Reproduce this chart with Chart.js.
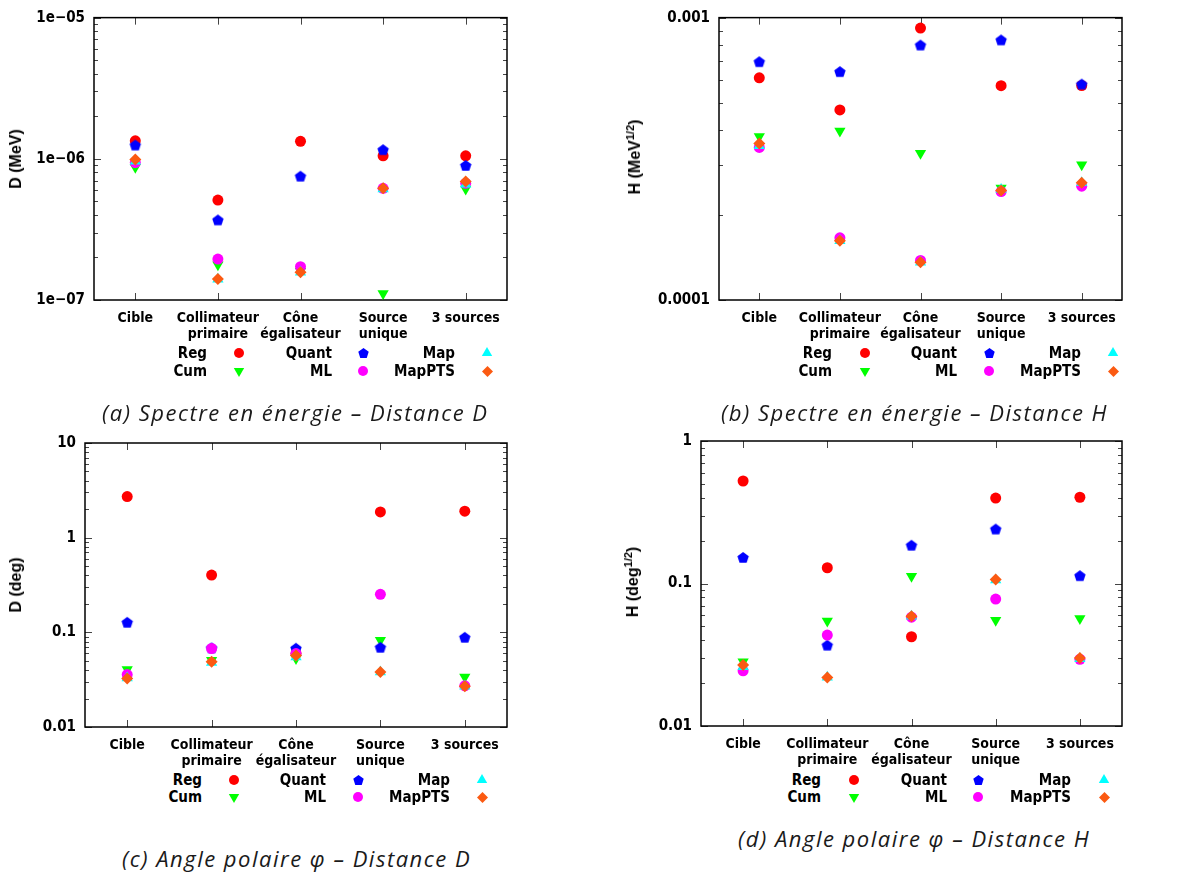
<!DOCTYPE html>
<html>
<head>
<meta charset="utf-8">
<script src="https://cdn.jsdelivr.net/npm/chart.js@4.4.1/dist/chart.umd.min.js"></script>
<style>
body { margin: 0; background: #fff; width: 1186px; height: 872px; position: relative; overflow: hidden; }
canvas { position: absolute; }
.ytitle { position: absolute; font: bold 16px "Liberation Sans", Arial, sans-serif; white-space: nowrap; transform: translate(-50%, -50%) rotate(-90deg); }
.ytitle sup { font-size: 11px; line-height: 0; }
.lg { position: absolute; font: bold 15px "DejaVu Sans Condensed", "Liberation Sans Narrow", sans-serif; white-space: nowrap; transform: translate(-100%, -50%); }
.cap { position: absolute; font: italic 400 22px "Open Sans", "Noto Sans", sans-serif; letter-spacing: 1.5px; white-space: nowrap; transform: translateY(-50%); color: #1a1a1a; }
</style>
</head>
<body>
<script>
// categories and series
const categories = ['Cible', ['Collimateur', 'primaire'], ['Cône', 'égalisateur'], ['Source', 'unique'], '3 sources'];
const seriesNames = ['Reg', 'Cum', 'Quant', 'ML', 'Map', 'MapPTS'];

// (a) Spectre en énergie - Distance D
const regA    = [1.34e-6, 5.1e-7, 1.33e-6, 1.05e-6, 1.05e-6];
const cumA    = [8.7e-7, 1.78e-7, 1.6e-7, 1.11e-7, 6.1e-7];
const quantA  = [1.24e-6, 3.66e-7, 7.47e-7, 1.15e-6, 8.9e-7];
const mlA     = [9.4e-7, 1.95e-7, 1.72e-7, 6.18e-7, 6.7e-7];
const mapA    = [9.6e-7, 1.4e-7, 1.57e-7, 6.1e-7, 6.6e-7];
const mapptsA = [9.9e-7, 1.41e-7, 1.57e-7, 6.18e-7, 6.9e-7];
const yDecadesA = [-7, -6, -5];
const yLabelsA  = ['1e−07', '1e−06', '1e−05'];

// (b) Spectre en énergie - Distance H
const regB    = [6.12e-4, 4.71e-4, 9.18e-4, 5.74e-4, 5.75e-4];
const cumB    = [3.79e-4, 3.97e-4, 3.31e-4, 2.49e-4, 3.01e-4];
const quantB  = [6.95e-4, 6.41e-4, 7.96e-4, 8.3e-4, 5.79e-4];
const mlB     = [3.47e-4, 1.66e-4, 1.38e-4, 2.42e-4, 2.53e-4];
const mapB    = [3.52e-4, 1.62e-4, 1.36e-4, 2.46e-4, 2.6e-4];
const mapptsB = [3.58e-4, 1.62e-4, 1.36e-4, 2.44e-4, 2.6e-4];
const yDecadesB = [-4, -3];
const yLabelsB  = ['0.0001', '0.001'];

// (c) Angle polaire - Distance D
const regC    = [2.72, 0.403, 0.0597, 1.87, 1.905];
const cumC    = [0.0405, 0.0508, 0.053, 0.0826, 0.0338];
const quantC  = [0.126, 0.0675, 0.067, 0.0686, 0.0875];
const mlC     = [0.0358, 0.0675, 0.0597, 0.252, 0.0272];
const mapC    = [0.033, 0.048, 0.055, 0.038, 0.027];
const mapptsC = [0.0325, 0.0488, 0.0569, 0.0382, 0.027];
const yDecadesC = [-2, -1, 0, 1];
const yLabelsC  = ['0.01', '0.1', '1', '10'];

// (d) Angle polaire - Distance H
const regD    = [0.524, 0.129, 0.0423, 0.398, 0.403];
const cumD    = [0.0282, 0.0545, 0.1125, 0.0553, 0.0569];
const quantD  = [0.151, 0.0366, 0.184, 0.239, 0.1125];
const mlD     = [0.0244, 0.0435, 0.058, 0.0777, 0.0294];
const mapD    = [0.026, 0.022, 0.059, 0.106, 0.0297];
const mapptsD = [0.0268, 0.0219, 0.059, 0.1067, 0.03];
const yDecadesD = [-2, -1, 0];
const yLabelsD  = ['0.01', '0.1', '1'];

// marker styles, same order as seriesNames
const markers = [
    { color: '#ff0000', shape: 'circle', r: 5.5 },
    { color: '#00ff00', shape: 'down', r: 6.5 },
    { color: '#0000ff', shape: 'pentagon', r: 6 },
    { color: '#ff00ff', shape: 'circle', r: 5.5 },
    { color: '#00ffff', shape: 'up', r: 6.5 },
    { color: '#fb5a12', shape: 'diamond', r: 6 }
];

const tickFont = { family: '"DejaVu Sans Condensed", "Liberation Sans Narrow", sans-serif', size: 14, weight: 'bold', lineHeight: 1.15 };

const panels = [
    { series: [regA, cumA, quantA, mlA, mapA, mapptsA], decades: yDecadesA, labels: yLabelsA,
      box: { left: 0, top: 0, w: 560, h: 350 }, area: { left: 94, top: 17, right: 507, bottom: 300 },
      title: 'D (MeV)', titlePos: [16, 159],
      lgText: [207, 332, 455], lgMark: [239, 363, 487], lgRows: [353, 371],
      caption: '(a) Spectre en énergie – Distance D', capPos: [102, 412] },
    { series: [regB, cumB, quantB, mlB, mapB, mapptsB], decades: yDecadesB, labels: yLabelsB,
      box: { left: 600, top: 0, w: 586, h: 350 }, area: { left: 719, top: 16, right: 1122, bottom: 300 },
      title: 'H (MeV<sup>1/2</sup>)', titlePos: [635, 157],
      lgText: [832, 957, 1081], lgMark: [865, 989, 1113], lgRows: [353, 371],
      caption: '(b) Spectre en énergie – Distance H', capPos: [721, 412] },
    { series: [regC, cumC, quantC, mlC, mapC, mapptsC], decades: yDecadesC, labels: yLabelsC,
      box: { left: 0, top: 420, w: 560, h: 350 }, area: { left: 85, top: 443, right: 507, bottom: 727 },
      title: 'D (deg)', titlePos: [16, 585],
      lgText: [202, 326, 450], lgMark: [234, 358, 482], lgRows: [780, 797],
      caption: '(c) Angle polaire φ – Distance D', capPos: [122, 858] },
    { series: [regD, cumD, quantD, mlD, mapD, mapptsD], decades: yDecadesD, labels: yLabelsD,
      box: { left: 600, top: 420, w: 586, h: 350 }, area: { left: 701, top: 441, right: 1122, bottom: 726 },
      title: 'H (deg<sup>1/2</sup>)', titlePos: [633, 582],
      lgText: [821, 947, 1071], lgMark: [854, 978, 1104], lgRows: [780, 797],
      caption: '(d) Angle polaire φ – Distance H', capPos: [738, 838] }
];

function drawMarker(g, m, x, y) {
    g.fillStyle = m.color;
    g.beginPath();
    if (m.shape === 'circle') {
        g.arc(x, y, m.r, 0, Math.PI * 2);
    } else if (m.shape === 'pentagon') {
        for (let i = 0; i < 5; i++) {
            const a = -Math.PI / 2 + i * 2 * Math.PI / 5;
            g.lineTo(x + m.r * Math.cos(a), y + m.r * Math.sin(a));
        }
    } else if (m.shape === 'diamond') {
        g.moveTo(x, y - m.r); g.lineTo(x + m.r, y); g.lineTo(x, y + m.r); g.lineTo(x - m.r, y);
    } else {
        const s = m.shape === 'up' ? -1 : 1;
        for (let i = 0; i < 3; i++) {
            const a = Math.PI / 2 * s + i * 2 * Math.PI / 3;
            g.lineTo(x + m.r * Math.cos(a), y + m.r * Math.sin(a));
        }
    }
    g.closePath();
    g.fill();
}

function markerCanvas(m) {
    const c = document.createElement('canvas');
    const s = Math.ceil(m.r * 2) + 2;
    c.width = s; c.height = s;
    drawMarker(c.getContext('2d'), m, s / 2, s / 2);
    return c;
}

// gnuplot-like border with inward ticks on all four sides
const frameTicks = {
    id: 'frameTicks',
    beforeDatasetsDraw(chart) {
        const { ctx, chartArea: a, scales: { x, y } } = chart;
        ctx.save();
        ctx.strokeStyle = '#444';
        ctx.lineWidth = 1;
        ctx.beginPath();
        const lo = Math.floor(Math.log10(y.min) + 1e-9), hi = Math.round(Math.log10(y.max));
        for (let k = lo; k <= hi; k++) {
            for (let m = 1; m <= 9; m++) {
                const v = m * Math.pow(10, k);
                if (v < y.min * 0.999 || v > y.max * 1.001) continue;
                const py = Math.round(y.getPixelForValue(v)) + 0.5;
                const len = m === 1 ? 7 : 4;
                ctx.moveTo(a.left, py); ctx.lineTo(a.left + len, py);
                ctx.moveTo(a.right, py); ctx.lineTo(a.right - len, py);
            }
        }
        categories.forEach((c, i) => {
            const px = Math.round(x.getPixelForValue(i)) + 0.5;
            ctx.moveTo(px, a.bottom); ctx.lineTo(px, a.bottom - 7);
            ctx.moveTo(px, a.top); ctx.lineTo(px, a.top + 7);
        });
        ctx.stroke();
        ctx.strokeStyle = '#000';
        ctx.lineWidth = 1.5;
        ctx.strokeRect(a.left, a.top, a.right - a.left, a.bottom - a.top);
        ctx.restore();
    }
};

function buildPanel(p) {
    const cv = document.createElement('canvas');
    cv.width = p.box.w; cv.height = p.box.h;
    cv.style.left = p.box.left + 'px';
    cv.style.top = p.box.top + 'px';
    document.body.appendChild(cv);

    const datasets = p.series.map((data, s) => {
        const m = markers[s];
        let style = 'circle', rotation = 0;
        if (m.shape === 'pentagon') style = markerCanvas(m);
        if (m.shape === 'diamond') style = 'rectRot';
        if (m.shape === 'up') style = 'triangle';
        if (m.shape === 'down') { style = 'triangle'; rotation = 180; }
        return {
            label: seriesNames[s],
            data: data,
            order: 6 - s,
            showLine: false,
            pointStyle: style,
            rotation: rotation,
            pointRadius: m.r,
            pointHoverRadius: m.r,
            pointBorderWidth: 0,
            backgroundColor: m.color,
            borderColor: m.color
        };
    });

    new Chart(cv, {
        type: 'line',
        data: { labels: categories, datasets: datasets },
        plugins: [frameTicks],
        options: {
            responsive: false,
            animation: false,
            events: [],
            layout: { padding: { left: 0, bottom: 0, top: p.area.top - p.box.top, right: p.box.left + p.box.w - p.area.right } },
            plugins: { legend: { display: false }, tooltip: { enabled: false } },
            scales: {
                x: {
                    type: 'category',
                    offset: true,
                    grid: { display: false, drawTicks: false },
                    border: { display: false },
                    ticks: { color: '#000', font: tickFont, padding: 10, maxRotation: 0, autoSkip: false },
                    afterFit: s => { s.height = p.box.top + p.box.h - p.area.bottom; }
                },
                y: {
                    type: 'logarithmic',
                    min: Math.pow(10, p.decades[0]),
                    max: Math.pow(10, p.decades[p.decades.length - 1]),
                    grid: { display: false, drawTicks: false },
                    border: { display: false },
                    ticks: {
                        color: '#000', font: { ...tickFont, size: 15 }, padding: 9, autoSkip: false,
                        callback: v => {
                            const l = Math.log10(v), e = Math.round(l);
                            if (Math.abs(l - e) > 1e-6) return '';
                            const i = p.decades.indexOf(e);
                            return i >= 0 ? p.labels[i] : '';
                        }
                    },
                    afterFit: s => { s.width = p.area.left - p.box.left; }
                }
            }
        }
    });

    // axis title
    const t = document.createElement('div');
    t.className = 'ytitle';
    t.innerHTML = p.title;
    t.style.left = p.titlePos[0] + 'px';
    t.style.top = p.titlePos[1] + 'px';
    document.body.appendChild(t);

    // legend, 3 columns x 2 rows
    seriesNames.forEach((name, s) => {
        const col = Math.floor(s / 2), row = s % 2;
        const d = document.createElement('div');
        d.className = 'lg';
        d.textContent = name;
        d.style.left = p.lgText[col] + 'px';
        d.style.top = p.lgRows[row] + 'px';
        document.body.appendChild(d);
        const mk = markerCanvas({ ...markers[s], r: markers[s].r - 0.5 });
        mk.style.left = (p.lgMark[col] - mk.width / 2) + 'px';
        mk.style.top = (p.lgRows[row] - mk.height / 2) + 'px';
        document.body.appendChild(mk);
    });

    // caption
    const c = document.createElement('div');
    c.className = 'cap';
    c.textContent = p.caption;
    c.style.left = p.capPos[0] + 'px';
    c.style.top = p.capPos[1] + 'px';
    document.body.appendChild(c);
}

panels.forEach(buildPanel);
</script>
</body>
</html>
